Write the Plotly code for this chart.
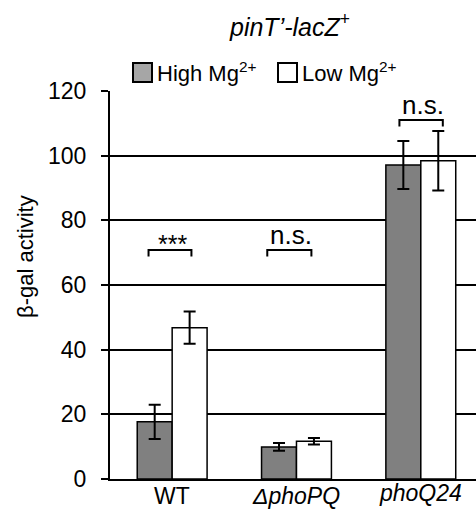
import plotly.graph_objects as go

categories = ["WT", "<i>ΔphoPQ</i>", "<i>phoQ24</i>"]
cat_pos = [0, 1, 2]
high_vals = [17.7, 9.9, 97.1]
high_err = [5.3, 1.2, 7.4]
low_vals = [46.8, 11.7, 98.4]
low_err = [5.0, 1.0, 9.2]
y_ticks = [0, 20, 40, 60, 80, 100, 120]

# significance brackets: (x0, x1, y, tick_y, label, label_x, label_size, yshift)
brackets = [
    (-0.19, 0.155, 70.8, 68.8, "***", 0.005, 25, -10),
    (0.765, 1.12, 70.8, 68.8, "n.s.", 0.957, 26, -2),
    (1.828, 2.177, 111.0, 109.0, "n.s.", 2.014, 26, -2),
]

FONT = "Liberation Sans, Arial, sans-serif"
W, H = 476, 510
L, R, T, B = 110, 0, 91, 31
pw, ph = W - L - R, H - T - B


def px_x(px):
    return (px - L) / pw


def px_y(py):
    return (H - B - py) / ph


fig = go.Figure()
fig.add_trace(go.Bar(
    x=cat_pos, y=high_vals, name="High",
    marker=dict(color="#808080", line=dict(color="black", width=1.5)),
    error_y=dict(type="data", array=high_err, color="black", thickness=2, width=6),
    offsetgroup="a", showlegend=False,
))
fig.add_trace(go.Bar(
    x=cat_pos, y=low_vals, name="Low",
    marker=dict(color="white", line=dict(color="black", width=1.5)),
    error_y=dict(type="data", array=low_err, color="black", thickness=2, width=6),
    offsetgroup="b", showlegend=False,
))

shapes = []
annotations = []
for x0, x1, y, ty, lab, lx, ls, ys in brackets:
    shapes.append(dict(type="path", xref="x", yref="y",
                       path=f"M {x0},{ty} L {x0},{y} L {x1},{y} L {x1},{ty}",
                       line=dict(color="black", width=2)))
    annotations.append(dict(x=lx, y=y, xref="x", yref="y", text=lab,
                            showarrow=False, yanchor="bottom", yshift=ys,
                            font=dict(size=ls, color="black", family=FONT)))

# category labels under the axis
for pos, lab, py in zip(cat_pos, categories, [496, 496, 493]):
    annotations.append(dict(x=pos, y=px_y(py), xref="x", yref="paper", text=lab,
                            showarrow=False, xanchor="center", yanchor="middle",
                            font=dict(size=23, color="black", family=FONT)))

# title
annotations.append(dict(x=px_x(289), y=px_y(25), xref="paper", yref="paper",
                        text="<i>pinT’-lacZ</i><sup>+</sup>", showarrow=False,
                        xanchor="center", yanchor="middle",
                        font=dict(size=25, color="black", family=FONT)))
# y-axis title
annotations.append(dict(x=px_x(25), y=px_y(257), xref="paper", yref="paper",
                        text="β-gal activity", showarrow=False, textangle=-90,
                        xanchor="center", yanchor="middle",
                        font=dict(size=22, color="black", family=FONT)))
# legend
legend_items = [(133, "#a6a6a6", "High Mg<sup>2+</sup>"), (278, "white", "Low Mg<sup>2+</sup>")]
for bx, col, txt in legend_items:
    shapes.append(dict(type="rect", xref="paper", yref="paper",
                       x0=px_x(bx), x1=px_x(bx + 19), y0=px_y(82), y1=px_y(63),
                       fillcolor=col, line=dict(color="black", width=2)))
    annotations.append(dict(x=px_x(bx + 22), y=px_y(72), xref="paper", yref="paper",
                            text=txt, showarrow=False, xanchor="left", yanchor="middle",
                            font=dict(size=22, color="black", family=FONT)))

fig.update_layout(
    width=W, height=H,
    margin=dict(l=L, r=R, t=T, b=B, pad=0, autoexpand=False),
    paper_bgcolor="white", plot_bgcolor="white",
    barmode="group", bargap=0.438, bargroupgap=0,
    font=dict(family=FONT, color="black", size=23),
    shapes=shapes, annotations=annotations,
    xaxis=dict(range=[-0.5, 2.444], tickvals=cat_pos, showticklabels=False,
               showline=True, linecolor="black", linewidth=2, ticks="",
               showgrid=False, zeroline=False,
               fixedrange=True, automargin=False),
    yaxis=dict(range=[0, 120], tickvals=y_ticks, showline=True,
               linecolor="black", linewidth=2, ticks="outside", ticklen=7,
               tickwidth=2, tickcolor="black", showgrid=True,
               gridcolor="black", gridwidth=1.5, zeroline=False,
               tickfont=dict(size=23), ticklabelstandoff=10,
               automargin=False),
    showlegend=False,
)

fig.write_html("out.html")
